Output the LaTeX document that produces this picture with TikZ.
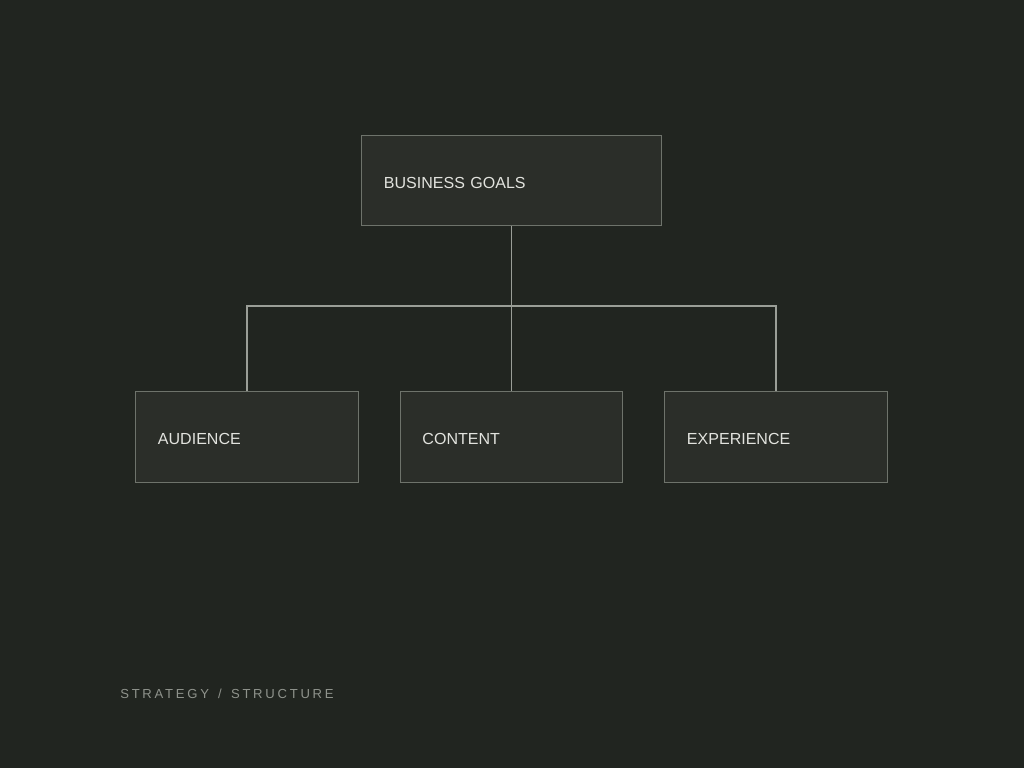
\documentclass[tikz,border=0pt]{standalone}
\usepackage{fontspec}
\setmainfont{Liberation Sans}
\newfontfamily\footfont[LetterSpace=21]{Liberation Sans}
\usetikzlibrary{positioning}

\definecolor{bgdark}{HTML}{212520}
\definecolor{boxfill}{HTML}{2B2E29}
\definecolor{boxline}{HTML}{6E736B}
\definecolor{linkline}{HTML}{9A9E97}
\definecolor{labeltext}{HTML}{E2E3DE}
\definecolor{foottext}{HTML}{8F938C}

\begin{document}
\begin{tikzpicture}[x=0.025cm,y=-0.025cm,
  box/.style={draw=boxline, fill=boxfill, line width=0.7pt, inner xsep=0.55cm,
    align=left, text=labeltext, text height=11pt, text depth=0pt,
    font=\fontsize{11.4}{13}\selectfont},
  topbox/.style={box, minimum width=7.475cm, minimum height=2.225cm, text width=6.375cm},
  subbox/.style={box, minimum width=5.55cm, minimum height=2.25cm, text width=4.45cm},
  link/.style={draw=linkline, line width=1pt}]

\fill[bgdark] (0,0) rectangle (1024,768);
\useasboundingbox (0,0) rectangle (1024,768);

% top
\node[topbox] (goals) at (511.5,180.5) {BUSINESS GOALS};

% children
\node[subbox] (audience) at (247,437) {AUDIENCE};
\node[subbox] (content) at (511.5,437) {CONTENT};
\node[subbox] (experience) at (776,437) {EXPERIENCE};

\coordinate (split) at (511.5,306);

\draw[link] (goals.south) -- (split);
\draw[link] (audience.north) |- (split) -| (experience.north);
\draw[link] (split) -- (content.north);

\node[anchor=west, text=foottext, inner sep=0pt, font=\footfont\fontsize{9.3}{11}\selectfont] (footer) at (120,694) {STRATEGY\hspace{2pt} / \hspace{2pt}STRUCTURE};

\end{tikzpicture}
\end{document}
